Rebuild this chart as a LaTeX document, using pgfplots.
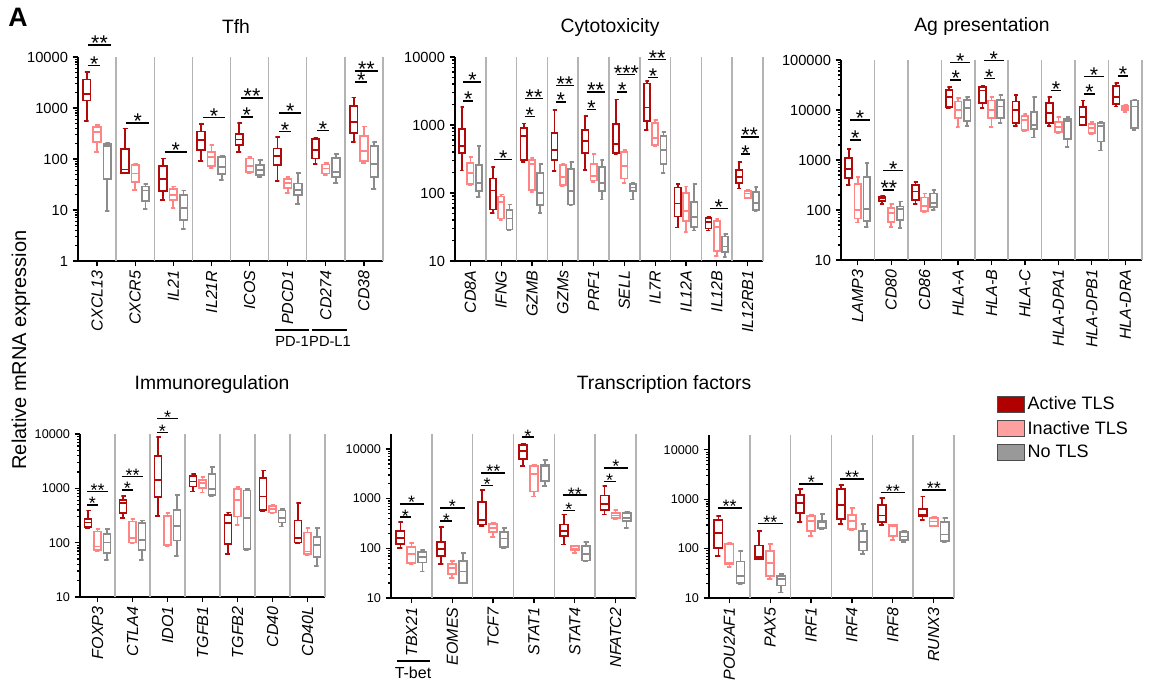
\documentclass[border=0pt]{standalone}
\usepackage{fontspec}
\setmainfont{Liberation Sans}
\usepackage{pgfplots}
\pgfplotsset{compat=1.18}
\definecolor{actc}{HTML}{B00A0A}
\definecolor{inac}{HTML}{FF8585}
\definecolor{notl}{HTML}{8C8C8C}
\definecolor{actf}{HTML}{B00000}
\definecolor{inaf}{HTML}{FFA0A0}
\definecolor{notf}{HTML}{999999}
\definecolor{sepc}{HTML}{B4B4B4}

% one box: style, position, "lw,lq,med,uq,uw" -> one polyline through the axis
\newcommand{\bx}[3]{\bxi{#1}{#2}#3\relax}
\def\bxi#1#2#3,#4,#5,#6,#7\relax{%
  \pgfmathsetmacro\bXc{#2}%
  \pgfmathsetmacro\bXl{#2-0.1}%
  \pgfmathsetmacro\bXr{#2+0.1}%
  \pgfmathsetmacro\bCl{#2-0.05}%
  \pgfmathsetmacro\bCr{#2+0.05}%
  \addplot[#1] coordinates {(\bCl,#3) (\bCr,#3) (\bXc,#3) (\bXc,#4) (\bXl,#4) (\bXl,#6) (\bXr,#6) (\bXr,#4) (\bXl,#4) (\bXl,#5) (\bXr,#5) (\bXr,#6) (\bXc,#6) (\bXc,#7) (\bCl,#7) (\bCr,#7)};}
% one category: index, active, inactive, no TLS
\newcommand{\cat}[4]{\bx{act}{#1-0.27}{#2}\bx{inact}{#1}{#3}\bx{notls}{#1+0.27}{#4}}
% significance bars: category, y, stars
\newcommand{\sigS}[3]{\pgfmathsetmacro\sXa{#1+\sigA}\pgfmathsetmacro\sXb{#1+\sigB}%
  \edef\sigtmp{\noexpand\draw[line width=1.2pt] (axis cs:\sXa,#2) -- (axis cs:\sXb,#2) node[midway, anchor=base, inner sep=0pt, yshift=\sigY, font=\noexpand\stfont] {#3};}\sigtmp}
\newcommand{\sigL}[3]{\pgfmathsetmacro\sXa{#1+\sigA}\pgfmathsetmacro\sXb{#1+\sigC}%
  \edef\sigtmp{\noexpand\draw[line width=1.2pt] (axis cs:\sXa,#2) -- (axis cs:\sXb,#2) node[midway, anchor=base, inner sep=0pt, yshift=\sigY, font=\noexpand\stfont] {#3};}\sigtmp}

\newcommand{\genefont}{\fontsize{12}{12}\selectfont\itshape}
\pgfplotsset{
  act/.style={draw=actc, line width=1.3pt, line join=miter, line cap=rect},
  inact/.style={draw=inac, line width=1.3pt, line join=miter, line cap=rect},
  notls/.style={draw=notl, line width=1.3pt, line join=miter, line cap=rect},
  every axis/.append style={
    scale only axis, clip=false,
    axis lines=left, axis line style={-, line width=1.4pt},
    tick align=outside, major tick length=4pt, minor tick length=2.2pt,
    xmin=-0.5,
    xticklabel style={rotate=90, anchor=east, inner sep=0pt, font=\genefont},
    xticklabel shift=3pt,
    extra x tick style={grid=major, major grid style={draw=sepc, line width=1.1pt}, major tick length=0pt},
    extra x tick labels={},
  },
  every tick/.style={black, line width=0.9pt},
}

\begin{document}
\begin{tikzpicture}[x=0.75pt,y=0.75pt]
\path[use as bounding box] (0,0) rectangle (1163,684);

\def\sigA{-0.23}\def\sigB{0.09}\def\sigC{0.36}\def\sigY{-4.3pt}
\def\stfont{\fontsize{16}{16}\selectfont}
% Tfh
\begin{axis}[ymode=log, log ticks with fixed point, /pgf/number format/1000 sep={},
  /pgf/number format/assume math mode=true,
  at={(58.5pt,317.25pt)}, anchor=south west, width=228.75pt, height=153pt,
  xmax=7.5, ymin=1, ymax=10000, xtick={0,...,7},
  xticklabels={CXCL13,CXCR5,IL21,IL21R,ICOS,PDCD1,CD274,CD38},
  extra x ticks={0.5,1.5,...,7.5},
  yticklabel style={font=\fontsize{11}{11}\selectfont}]
\cat{0}{556,1410,1850,3600,5080}{137,215,339,424,457}{9.5,41,180,200,205}
\cat{1}{53,53,62,155,394}{25,35,52,75,79}{10.3,14.8,24,29,32}
\cat{2}{15.5,23.6,41,73,102}{11,15.5,20,26,29}{4.3,6.3,11,20,24}
\cat{3}{91,148,232,348,478}{67,72,109,137,185}{39,50,70,109,113}
\cat{4}{137,185,240,314,508}{53,56,72,102,109}{44,48,60,75,94}
\cat{5}{37,75,113,160,270}{21.5,27,34,41,44}{12.9,19.4,25,33,53}
\cat{6}{79,102,152,250,262}{49,52,65,78,84}{34,44,56,106,124}
\cat{7}{215,323,531,1080,1600}{84,90,144,278,436}{26,44,81,177,215}
\sigS{0}{6870}{*}\sigL{0}{17400}{**}
\sigL{1}{508}{*}
\sigL{2}{137}{*}
\sigL{3}{646}{*}
\sigS{4}{667}{*}\sigL{4}{1570}{**}
\sigS{5}{348}{*}\sigL{5}{798}{*}
\sigS{6}{365}{*}
\sigS{7}{3240}{*}\sigL{7}{5310}{**}
\end{axis}

% Cytotoxicity
\begin{axis}[ymode=log, log ticks with fixed point, /pgf/number format/1000 sep={},
  /pgf/number format/assume math mode=true,
  at={(341.25pt,317.25pt)}, anchor=south west, width=231pt, height=153pt,
  xmax=9.5, ymin=10, ymax=10000, xtick={0,...,9},
  xticklabels={CD8A,IFNG,GZMB,GZMs,PRF1,SELL,IL7R,IL12A,IL12B,IL12RB1},
  extra x ticks={0.5,1.5,...,9.5},
  yticklabel style={font=\fontsize{11}{11}\selectfont}]
\cat{0}{215,387,491,863,1840}{130,137,197,276,339}{87,107,140,261,491}
\cat{1}{51,57,109,163,241}{40,42,74,89,95}{28,29,42,56,68}
\cat{2}{286,309,681,904,1047}{103,112,270,302,331}{51,66,100,197,264}
\cat{3}{211,302,434,762,1680}{125,130,172,255,264}{66,68,107,228,286}
\cat{4}{220,387,582,836,1340}{145,153,176,270,378}{80,107,140,241,302}
\cat{5}{378,387,520,1023,2360}{140,163,247,401,424}{80,107,120,134,140}
\cat{6}{853,1146,1800,4060,4440}{485,502,651,1070,1172}{197,270,434,681,788}
\cat{7}{31,45,70,120,134}{27,39,54,100,125}{28,32,44,74,134}
\cat{8}{28,30,37.5,43,44}{11.7,14,31.6,39,41}{11.5,13.6,16.4,23,25}
\cat{9}{116,140,172,220,286}{83,85,98,107,112}{55,56,71,103,122}
\sigS{0}{2250}{*}\sigL{0}{4290}{*}
\sigL{1}{309}{*}
\sigS{2}{1340}{*}\sigL{2}{2440}{**}
\sigS{3}{2180}{*}\sigL{3}{3830}{**}
\sigS{4}{1700}{*}\sigL{4}{3050}{**}
\sigS{5}{3050}{*}\sigL{5}{5560}{***}
\sigS{6}{4970}{*}\sigL{6}{9150}{**}
\sigL{8}{59}{*}
\sigS{9}{371}{*}\sigL{9}{667}{**}
\end{axis}

% Ag presentation
\begin{axis}[ymode=log, log ticks with fixed point, /pgf/number format/1000 sep={},
  /pgf/number format/assume math mode=true,
  at={(630.75pt,318pt)}, anchor=south west, width=225.75pt, height=150pt,
  xmax=8.5, ymin=10, ymax=100000, xtick={0,...,8},
  xticklabels={LAMP3,CD80,CD86,HLA-A,HLA-B,HLA-C,HLA-DPA1,HLA-DPB1,HLA-DRA},
  extra x ticks={0.5,1.5,...,8.5},
  yticklabel style={font=\fontsize{11}{11}\selectfont}]
\cat{0}{316,430,650,1080,1660}{56,68,100,331,464}{46,61,103,450,885}
\cat{1}{132,151,171,185,190}{45,58,86,108,132}{43,63,103,117,147}
\cat{2}{132,158,233,316,369}{91,97,120,177,215}{100,113,136,215,251}
\cat{3}{10800,11300,18500,25100,28400}{4640,6810,10000,14700,17100}{4790,6120,10800,15800,18500}
\cat{4}{10800,13600,24400,28400,30700}{4640,6810,10000,15400,18500}{5410,6810,11700,15800,20000}
\cat{5}{4790,5580,10000,14700,20000}{3800,3980,6310,7590,8310}{2800,4100,5010,9260,18500}
\cat{6}{4790,5410,8580,14000,18500}{3520,3690,4640,5840,7360}{1850,2590,6120,6500,7360}
\cat{7}{4900,5010,7130,11300,15400}{3310,3520,4300,5250,5840}{1540,2330,4790,5410,5840}
\cat{8}{11700,13200,18500,30200,34200}{9260,9850,10800,12000,12600}{3980,4300,11700,15400,16300}
\sigS{0}{2510}{*}\sigL{0}{6310}{*}
\sigS{1}{251}{**}\sigL{1}{612}{*}
\sigS{3}{39800}{*}\sigL{3}{88500}{*}
\sigS{4}{43000}{*}\sigL{4}{97000}{*}
\sigS{6}{24400}{*}
\sigS{7}{20900}{*}\sigL{7}{46400}{*}
\sigS{8}{47900}{*}
\end{axis}

\def\sigA{-0.29}\def\sigB{0.0}\def\sigC{0.3}\def\sigY{-3.6pt}
\def\stfont{\fontsize{13.5}{13.5}\selectfont}
% Immunoregulation
\begin{axis}[ymode=log, log ticks with fixed point, /pgf/number format/1000 sep={},
  /pgf/number format/assume math mode=true,
  at={(60pt,65.25pt)}, anchor=south west, width=183.75pt, height=122.25pt,
  xmax=6.5, ymin=10, ymax=10000, xtick={0,...,6},
  xticklabels={FOXP3,CTLA4,IDO1,TGFB1,TGFB2,CD40,CD40L},
  extra x ticks={0.5,1.5,...,6.5},
  yticklabel style={font=\fontsize{9.5}{9.5}\selectfont}]
\cat{0}{187,193,235,271,391}{71,74,85,161,177}{48,64,101,146,177}
\cat{1}{282,349,533,613,726}{100,101,121,245,271}{48,74,113,228,256}
\cat{2}{312,687,1430,3950,8690}{85,89,91,312,349}{57,110,204,402,757}
\cat{3}{871,1080,1330,1690,1840}{836,1000,1240,1430,1600}{726,757,962,1840,2440}
\cat{4}{62,95,228,325,359}{213,303,613,962,1047}{72,76,282,910,962}
\cat{5}{375,402,707,1530,2120}{349,359,413,475,497}{199,235,282,391,413}
\cat{6}{100,101,121,256,533}{60,62,69,154,187}{37,54,91,126,187}
\sigS{0}{496}{*}\sigL{0}{873}{**}
\sigS{1}{936}{*}\sigL{1}{1640}{**}
\sigS{2}{10600}{*}\sigL{2}{19400}{*}
\end{axis}

% Transcription factors (1)
\begin{axis}[ymode=log, log ticks with fixed point, /pgf/number format/1000 sep={},
  /pgf/number format/assume math mode=true,
  at={(293.25pt,64.5pt)}, anchor=south west, width=183.75pt, height=123pt,
  xmax=5.5, ymin=10, ymax=20000, xtick={0,...,5},
  xticklabels={TBX21,EOMES,TCF7,STAT1,STAT4,NFATC2},
  extra x ticks={0.5,1.5,...,5.5},
  yticklabel style={font=\fontsize{9.5}{9.5}\selectfont}]
\cat{0}{102,124,161,220,334}{47,51,78,106,128}{34,52,67,83,91}
\cat{1}{49,69,97,132,265}{25,30,40,49,55}{19.6,20,34,55,81}
\cat{2}{286,300,377,843,1470}{169,210,257,309,324}{102,106,157,210,257}
\cat{3}{4480,6290,8980,11900,12800}{1110,1400,3180,4480,4840}{1770,2230,4480,4840,5920}
\cat{4}{119,175,220,300,477}{81,91,97,110,113}{55,57,78,110,132}
\cat{5}{477,582,793,1150,1770}{390,408,455,514,582}{257,350,408,514,531}
\sigS{0}{421}{*}\sigL{0}{781}{*}
\sigS{1}{350}{*}\sigL{1}{649}{*}
\sigS{2}{1830}{*}\sigL{2}{3290}{**}
\sigS{3}{17200}{*}
\sigS{4}{573}{*}\sigL{4}{1170}{**}
\sigS{5}{2230}{*}\sigL{5}{4140}{*}
\end{axis}

% Transcription factors (2)
\begin{axis}[ymode=log, log ticks with fixed point, /pgf/number format/1000 sep={},
  /pgf/number format/assume math mode=true,
  at={(531.75pt,64.5pt)}, anchor=south west, width=183.75pt, height=122.25pt,
  xmax=5.5, ymin=10, ymax=20000, xtick={0,...,5},
  xticklabels={POU2AF1,PAX5,IRF1,IRF4,IRF8,RUNX3},
  extra x ticks={0.5,1.5,...,5.5},
  yticklabel style={font=\fontsize{9.5}{9.5}\selectfont},
  legend cell align=left,
  legend style={at={(1.16,1.27)}, anchor=north west, draw=none, fill=none,
    font=\fontsize{13.5}{14}\selectfont, row sep=3pt}]
\addlegendimage{legend image code/.code={\draw[fill=actf, draw=black!70, line width=0.7pt] (0pt,-6pt) rectangle (20pt,6pt);}}
\addlegendimage{legend image code/.code={\draw[fill=inaf, draw=black!70, line width=0.7pt] (0pt,-6pt) rectangle (20pt,6pt);}}
\addlegendimage{legend image code/.code={\draw[fill=notf, draw=black!70, line width=0.7pt] (0pt,-6pt) rectangle (20pt,6pt);}}
\legend{Active TLS, Inactive TLS, No TLS}
\cat{0}{70,103,207,386,464}{43,48,51,126,130}{19,20,28,55,88}
\cat{1}{60,62,68,115,224}{24,28,51,88,126}{13,18,24,28,31}
\cat{2}{341,526,837,1230,1600}{183,224,357,450,486}{250,262,341,373,509}
\cat{3}{320,397,774,1600,1960}{241,250,357,486,664}{79,92,134,224,320}
\cat{4}{305,341,471,774,1060}{147,183,283,305,305}{134,147,177,214,224}
\cat{5}{386,450,486,632,1140}{283,292,355,417,436}{134,141,192,341,417}
\sigL{0}{664}{**}
\sigL{1}{320}{**}
\sigL{2}{2060}{*}
\sigL{3}{2550}{**}
\sigL{4}{1370}{**}
\sigL{5}{1560}{**}
\end{axis}

% titles and annotations
\node[font=\fontsize{20}{20}\selectfont\bfseries] at (18,667) {A};
\node[font=\fontsize{14.5}{16}\selectfont] at (236,657) {Tfh};
\node[font=\fontsize{14.5}{16}\selectfont] at (610,656) {Cytotoxicity};
\node[font=\fontsize{14.5}{16}\selectfont] at (982,657) {Ag presentation};
\node[font=\fontsize{14.5}{16}\selectfont] at (212,299) {Immunoregulation};
\node[font=\fontsize{14.5}{16}\selectfont] at (664,299) {Transcription factors};
\node[rotate=90, font=\fontsize{15}{16}\selectfont] at (21,334) {Relative mRNA expression};
\draw[line width=1pt] (275,354) -- (309,354);
\draw[line width=1pt] (312,354) -- (347,354);
\node[font=\fontsize{11}{12}\selectfont] at (292,343) {PD-1};
\node[font=\fontsize{11}{12}\selectfont] at (330,343) {PD-L1};
\draw[line width=1pt] (397,23) -- (430,23);
\node[font=\fontsize{12}{12}\selectfont] at (413,11) {T-bet};
\end{tikzpicture}
\end{document}
